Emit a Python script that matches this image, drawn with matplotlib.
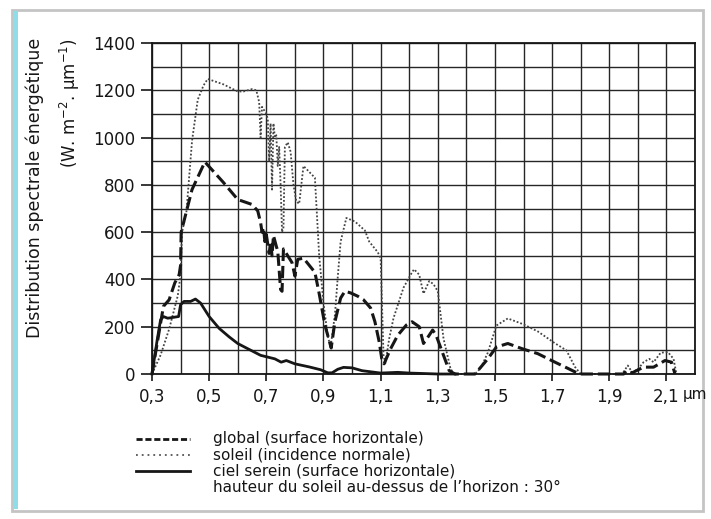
import matplotlib
matplotlib.use("Agg")
import matplotlib.pyplot as plt
from matplotlib.patches import Rectangle
from matplotlib.lines import Line2D

# ---- data (wavelength in µm, spectral irradiance in W m-2 µm-1) ----
soleil_x = [0.30, 0.33, 0.36, 0.39, 0.40, 0.405, 0.42, 0.44, 0.46, 0.48, 0.495, 0.55, 0.60, 0.62,
            0.65, 0.665, 0.675, 0.68, 0.685, 0.69, 0.70, 0.705, 0.71, 0.715, 0.72, 0.725, 0.73,
            0.735, 0.74, 0.745, 0.75, 0.755, 0.76, 0.765, 0.775, 0.785, 0.795, 0.805, 0.815, 0.83,
            0.85, 0.87, 0.885, 0.90, 0.915, 0.925, 0.94, 0.95, 0.96, 0.98, 1.01, 1.045, 1.06, 1.09,
            1.10, 1.11, 1.117, 1.13, 1.145, 1.18, 1.205, 1.217, 1.235, 1.25, 1.27, 1.285, 1.30,
            1.32, 1.345, 1.36, 1.43, 1.45, 1.475, 1.505, 1.545, 1.60, 1.65, 1.71, 1.75, 1.78, 1.80,
            1.945, 1.965, 1.98, 2.00, 2.02, 2.04, 2.055, 2.08, 2.105, 2.125, 2.135]
soleil_y = [0, 80, 190, 330, 420, 600, 680, 985, 1160, 1220, 1248, 1225, 1195, 1195,
            1205, 1200, 1150, 1000, 1130, 1120, 1100, 1080, 900, 1060, 780, 1060, 1000,
            1010, 880, 960, 800, 600, 620, 960, 980, 940, 800, 730, 720, 880,
            855, 830, 500, 300, 160, 115, 250, 410, 560, 660, 645, 607, 560, 515,
            490, 80, 45, 150, 236, 365, 420, 443, 420, 340, 393, 380, 350,
            150, 20, 0, 0, 25, 90, 205, 235, 210, 180, 130, 100, 30, 0,
            0, 36, 7, 20, 50, 64, 50, 90, 93, 64, 0]

global_x = [0.30, 0.34, 0.36, 0.38, 0.395, 0.40, 0.402, 0.44, 0.485, 0.55, 0.60, 0.65, 0.67,
            0.68, 0.685, 0.69, 0.695, 0.70, 0.705, 0.71, 0.715, 0.72, 0.725, 0.735, 0.74, 0.75,
            0.755, 0.76, 0.775, 0.79, 0.80, 0.81, 0.83, 0.85, 0.87, 0.885, 0.905, 0.918, 0.927,
            0.94, 0.96, 0.975, 0.995, 1.02, 1.04, 1.065, 1.08, 1.095, 1.104, 1.112, 1.135, 1.16,
            1.19, 1.21, 1.235, 1.25, 1.27, 1.282, 1.294, 1.32, 1.34, 1.36, 1.43, 1.44, 1.475,
            1.505, 1.545, 1.595, 1.65, 1.71, 1.76, 1.79, 1.80, 1.95, 1.96, 1.98, 2.02, 2.055,
            2.095, 2.118, 2.13]
global_y = [0, 286, 314, 386, 420, 460, 600, 780, 897, 810, 738, 717, 690,
            640, 600, 620, 560, 590, 550, 510, 560, 500, 586, 540, 520, 357,
            350, 529, 500, 471, 414, 485, 490, 460, 430, 340, 207, 150, 110,
            221, 321, 350, 343, 329, 314, 279, 221, 136, 64, 43, 107, 164,
            207, 221, 200, 129, 164, 186, 164, 79, 14, 0, 0, 14, 64,
            114, 129, 107, 86, 50, 21, 3, 0, 0, 14, 5, 29, 29,
            57, 50, 0]

ciel_x = [0.30, 0.318, 0.33, 0.34, 0.355, 0.393, 0.40, 0.412, 0.435, 0.452, 0.47, 0.50, 0.535,
          0.57, 0.60, 0.635, 0.68, 0.73, 0.752, 0.77, 0.80, 0.85, 0.89, 0.915, 0.93, 0.95, 0.97,
          1.00, 1.035, 1.10, 1.16, 1.20, 1.30, 1.36]
ciel_y = [0, 143, 229, 243, 236, 243, 293, 307, 307, 317, 300, 243, 193,
          157, 129, 107, 79, 64, 50, 57, 43, 30, 18, 5, 5, 20, 28,
          26, 14, 4, 7, 4, 0, 0]

xtick_vals = [0.3, 0.5, 0.7, 0.9, 1.1, 1.3, 1.5, 1.7, 1.9, 2.1]
xtick_labels = ["0,3", "0,5", "0,7", "0,9", "1,1", "1,3", "1,5", "1,7", "1,9", "2,1"]
ytick_vals = [0, 200, 400, 600, 800, 1000, 1200, 1400]

legend_labels = ["global (surface horizontale)",
                 "soleil (incidence normale)",
                 "ciel serein (surface horizontale)"]
note_text = "hauteur du soleil au-dessus de l\u2019horizon : 30\u00b0"
ylabel_1 = "Distribution spectrale \u00e9nerg\u00e9tique"
ylabel_2 = "(W. m$^{-2}$. \u00b5m$^{-1}$)"
unit_text = "\u00b5m"

# ---- figure ----
W, H = 711, 519
fig = plt.figure(figsize=(W / 100, H / 100), dpi=100)
fig.patch.set_facecolor("white")
ink = "#161616"

def fx(px):
    return px / W

def fy(py):
    return 1 - py / H

# outer frame (scan border)
fig.add_artist(Rectangle((fx(12), fy(511)), fx(703) - fx(12), fy(10) - fy(511),
                         transform=fig.transFigure, fill=False, edgecolor="#c4c4c4", lw=2))
fig.add_artist(Rectangle((fx(13), fy(509)), fx(5), fy(11) - fy(509),
                         transform=fig.transFigure, facecolor="#8fdde8", edgecolor="none"))

ax = fig.add_axes([fx(152), fy(374), fx(695) - fx(152), fy(43) - fy(374)])
ax.set_xlim(0.3, 2.2)
ax.set_ylim(0, 1400)

ax.set_xticks(xtick_vals)
ax.set_xticklabels(xtick_labels)
ax.set_xticks([0.4 + 0.2 * i for i in range(10)], minor=True)
ax.set_yticks(ytick_vals)
ax.set_yticks([100 + 200 * i for i in range(7)], minor=True)
ax.grid(True, which="both", color="#262626", lw=1.0)
ax.set_axisbelow(True)
ax.tick_params(axis="both", which="major", direction="out", length=8, width=1.2,
               color=ink, labelsize=12, labelcolor=ink)
ax.tick_params(axis="x", which="major", length=5, pad=5)
ax.tick_params(axis="y", which="major", pad=4)
ax.tick_params(which="minor", length=0)
for s in ax.spines.values():
    s.set_color(ink)
    s.set_linewidth(1.3)

ax.plot(soleil_x, soleil_y, color="#444444", lw=1.3, linestyle=(0, (1, 1.1)), clip_on=False)
ax.plot(global_x, global_y, color=ink, lw=2.2, linestyle=(0, (4, 1.6)), clip_on=False)
ax.plot(ciel_x, ciel_y, color=ink, lw=2.0, linestyle="-", clip_on=False)

fig.text(fx(683), fy(395), unit_text, fontsize=11, color=ink, ha="left", va="center")

fig.text(fx(35), fy(38), ylabel_1, rotation=90, fontsize=12.5, color=ink,
         ha="center", va="top")
fig.text(fx(70), fy(38), ylabel_2, rotation=90, fontsize=12, color=ink,
         ha="center", va="top")

# legend
styles = [dict(color=ink, lw=2.0, linestyle=(0, (2.2, 1.0))),
          dict(color="#555555", lw=1.3, linestyle=(0, (1, 2.2))),
          dict(color=ink, lw=2.0, linestyle="-")]
rows = [439, 455, 471]
for lab, st, ry in zip(legend_labels, styles, rows):
    fig.add_artist(Line2D([fx(136), fx(190)], [fy(ry), fy(ry)], transform=fig.transFigure, **st))
    fig.text(fx(213), fy(ry), lab, fontsize=11, color=ink, ha="left", va="center")
fig.text(fx(213), fy(487), note_text, fontsize=11, color=ink, ha="left", va="center")

fig.savefig("out.png", dpi=100, facecolor="white")
